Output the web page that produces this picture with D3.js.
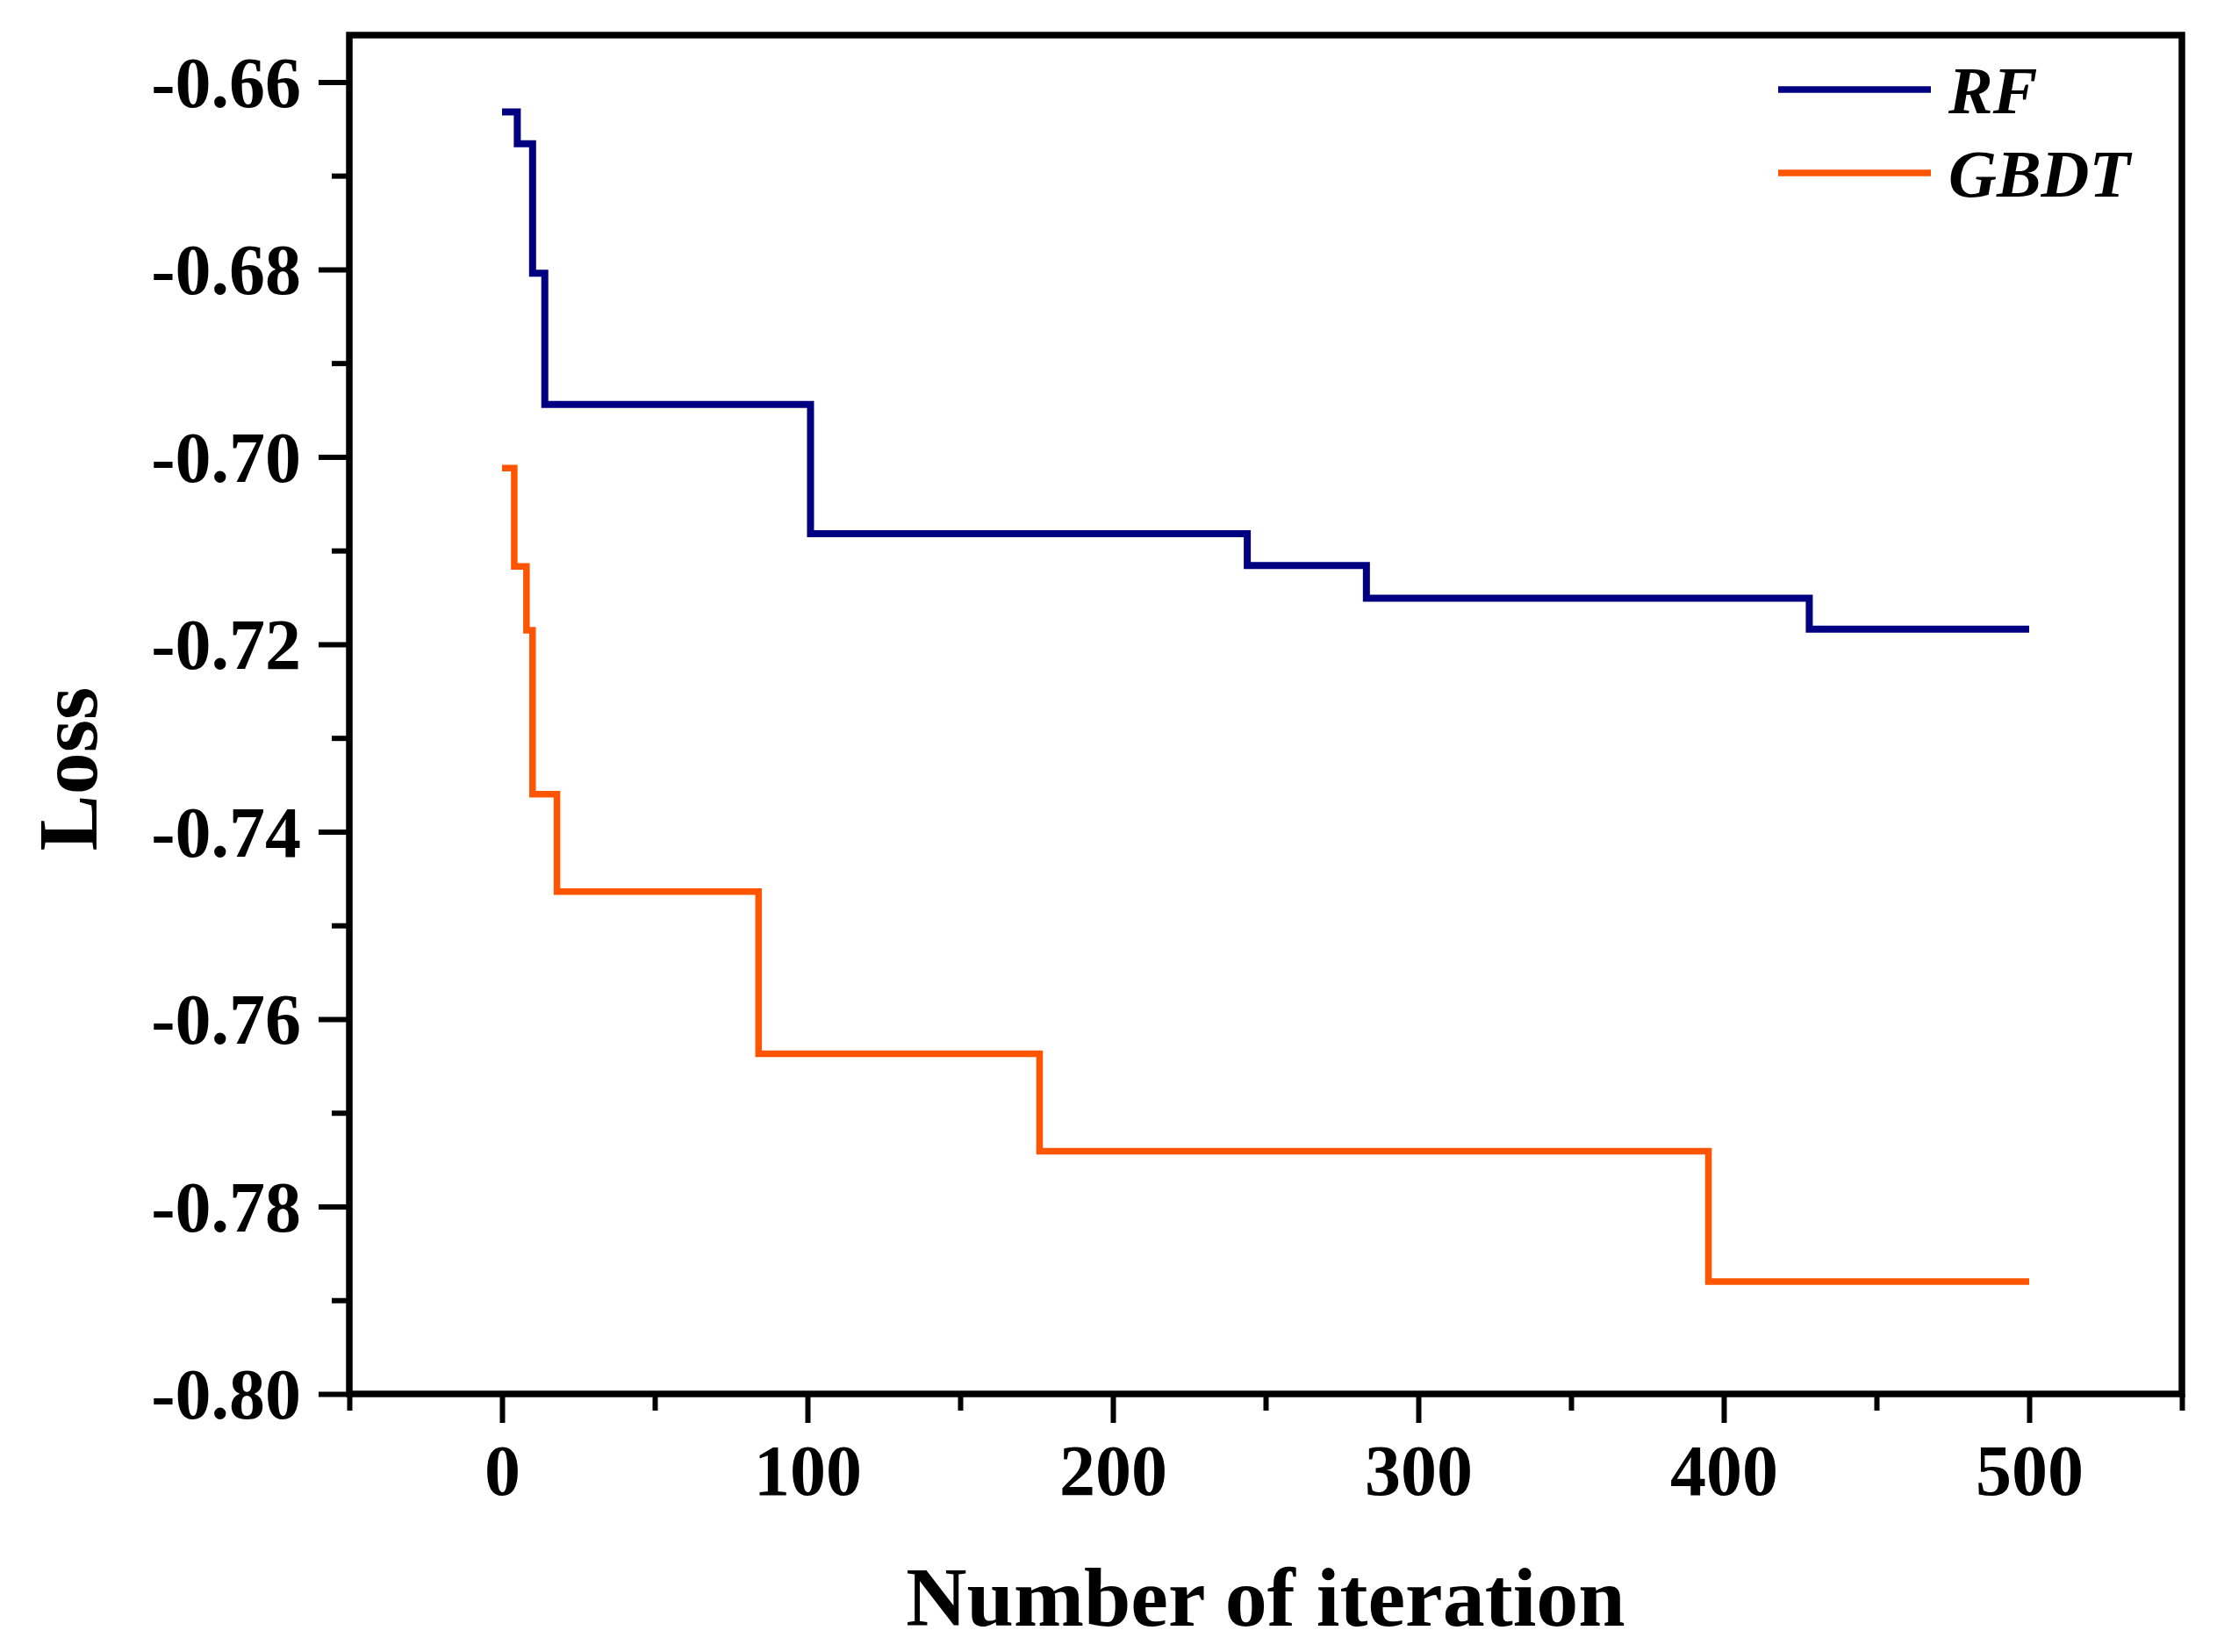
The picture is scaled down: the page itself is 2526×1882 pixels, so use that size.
<!DOCTYPE html>
<html>
<head>
<meta charset="utf-8">
<script src="https://cdn.jsdelivr.net/npm/d3@7"></script>
<style>
  html, body { margin: 0; padding: 0; background: #fff; }
  #chart { width: 2526px; height: 1882px; }
  text { font-family: "Liberation Serif", "Times New Roman", serif; font-weight: bold; }
</style>
</head>
<body>
<div id="chart"></div>
<script>
// step data (iteration where the best loss changes)
const rfIter = [0, 5, 10, 14, 101, 244, 283, 428, 500];
const rfLoss = [-0.6632, -0.6666, -0.6804, -0.6944, -0.7082, -0.7116, -0.7151, -0.7184, -0.7184];

const gbdtIter = [0, 4, 8, 10, 18, 84, 176, 395, 500];
const gbdtLoss = [-0.7012, -0.7117, -0.7185, -0.7360, -0.7464, -0.7637, -0.7741, -0.7880, -0.7880];

const seriesNames = ['RF', 'GBDT'];
const seriesColors = ['#000080', '#ff5500'];

const xTicks = [0, 100, 200, 300, 400, 500];
const xMinor = [-50, 50, 150, 250, 350, 450, 550];
const yTicks = [-0.80, -0.78, -0.76, -0.74, -0.72, -0.70, -0.68, -0.66];
const yMinor = [-0.79, -0.77, -0.75, -0.73, -0.71, -0.69, -0.67];

const xTitle = 'Number of iteration';
const yTitle = 'Loss';

// Set up canvas
let width = 2526,
    height = 1882,
    plotLeft = 398,
    plotRight = 2486,
    plotTop = 40,
    plotBottom = 1588;

let x = d3.scaleLinear().domain([-50, 550]).range([plotLeft, plotRight]);
let y = d3.scaleLinear().domain([-0.80, -0.655]).range([plotBottom, plotTop]);

let svg = d3.select('#chart')
  .append('svg')
  .attr('width', width)
  .attr('height', height);

// Minor ticks
svg.append('g')
  .attr('transform', `translate(${plotLeft}, 0)`)
  .call(d3.axisLeft(y).tickValues(yMinor).tickSize(20).tickFormat(''))
  .call(g => g.select('.domain').remove())
  .call(g => g.selectAll('line').attr('stroke', '#000').attr('stroke-width', 6));

svg.append('g')
  .attr('transform', `translate(0, ${plotBottom})`)
  .call(d3.axisBottom(x).tickValues(xMinor).tickSize(19).tickFormat(''))
  .call(g => g.select('.domain').remove())
  .call(g => g.selectAll('line').attr('stroke', '#000').attr('stroke-width', 6));

// Major ticks with labels
svg.append('g')
  .attr('transform', `translate(${plotLeft}, 0)`)
  .call(d3.axisLeft(y).tickValues(yTicks).tickSize(35).tickPadding(20).tickFormat(d => d.toFixed(2)))
  .call(g => g.select('.domain').remove())
  .call(g => g.selectAll('line').attr('stroke', '#000').attr('stroke-width', 6))
  .call(g => g.selectAll('text')
    .attr('fill', '#000')
    .attr('font-size', 82)
    .attr('font-family', '"Liberation Serif", serif')
    .attr('font-weight', 'bold')
    .attr('dy', '0.34em'));

svg.append('g')
  .attr('transform', `translate(0, ${plotBottom})`)
  .call(d3.axisBottom(x).tickValues(xTicks).tickSize(33).tickPadding(24))
  .call(g => g.select('.domain').remove())
  .call(g => g.selectAll('line').attr('stroke', '#000').attr('stroke-width', 6))
  .call(g => g.selectAll('text')
    .attr('fill', '#000')
    .attr('font-size', 82)
    .attr('font-family', '"Liberation Serif", serif')
    .attr('font-weight', 'bold'));

// Frame
svg.append('rect')
  .attr('x', plotLeft)
  .attr('y', plotTop)
  .attr('width', plotRight - plotLeft)
  .attr('height', plotBottom - plotTop)
  .attr('fill', 'none')
  .attr('stroke', '#000')
  .attr('stroke-width', 7.5);

// Lines
let line = d3.line()
  .x(d => x(d[0]))
  .y(d => y(d[1]))
  .curve(d3.curveStepAfter);

let rfData = rfIter.map((v, i) => [v, rfLoss[i]]);
let gbdtData = gbdtIter.map((v, i) => [v, gbdtLoss[i]]);

svg.append('path')
  .datum(gbdtData)
  .attr('d', line)
  .attr('fill', 'none')
  .attr('stroke', seriesColors[1])
  .attr('stroke-width', 7.5);

svg.append('path')
  .datum(rfData)
  .attr('d', line)
  .attr('fill', 'none')
  .attr('stroke', seriesColors[0])
  .attr('stroke-width', 8);

// Legend
let legend = svg.append('g');
seriesNames.forEach((name, i) => {
  let ly = 102 + i * 95;
  legend.append('line')
    .attr('x1', 2026)
    .attr('x2', 2200)
    .attr('y1', ly)
    .attr('y2', ly)
    .attr('stroke', seriesColors[i])
    .attr('stroke-width', 7.5);
  legend.append('text')
    .attr('x', 2220)
    .attr('y', ly + 27)
    .attr('font-size', 76)
    .attr('font-style', 'italic')
    .text(name);
});

// Axis titles
svg.append('text')
  .attr('x', (plotLeft + plotRight) / 2)
  .attr('y', 1852)
  .attr('text-anchor', 'middle')
  .attr('font-size', 96)
  .text(xTitle);

svg.append('text')
  .attr('transform', `translate(110, 876) rotate(-90)`)
  .attr('text-anchor', 'middle')
  .attr('font-size', 96)
  .text(yTitle);
</script>
</body>
</html>
